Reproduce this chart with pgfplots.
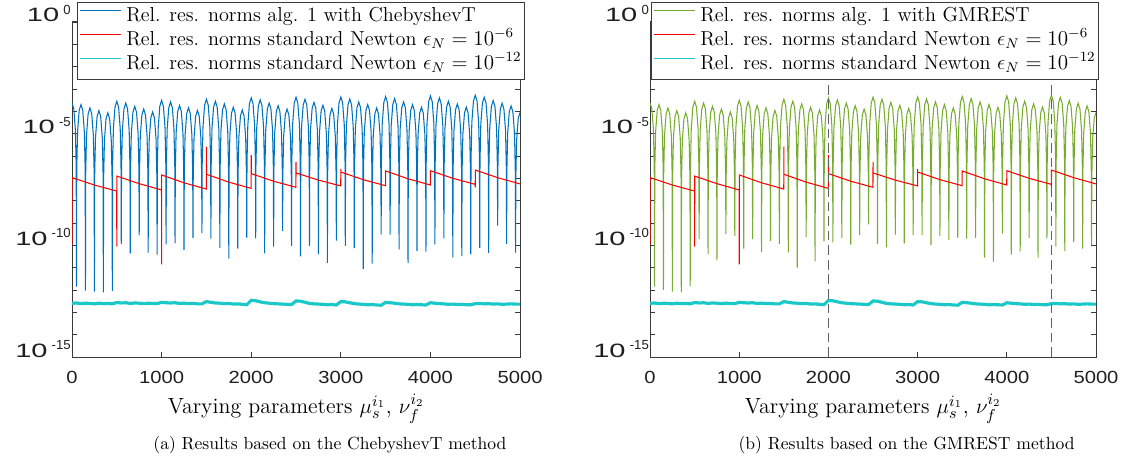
\documentclass[border=0pt]{standalone}
\usepackage{fontspec}
\usepackage{graphicx}
\usepackage{pgfplots}
\usepackage{pgfplotstable}
\pgfplotsset{compat=1.18}
\newfontfamily\ticksf{Liberation Sans}

\definecolor{mblue}{HTML}{0072BD}
\definecolor{mgreen}{HTML}{77AC30}
\definecolor{mred}{HTML}{FF0000}
\definecolor{mcyan}{HTML}{1AC8C8}
\definecolor{axgray}{HTML}{3A3A3A}

% exponent (log10) of the relative residual norms; b = ChebyshevT, g = GMREST
\pgfplotstableread[row sep=\\]{
x b g\\
0 -3.63 -3.63\\ 20 -3.89 -3.89\\ 38 -4.85 -4.85\\ 47 -6.53 -6.53\\ 50 -11.85 -11.85\\ 53 -6.60 -6.60\\ 62 -4.92 -4.92\\ 80 -3.96 -3.96\\
100 -3.70 -3.70\\ 120 -3.96 -3.96\\ 138 -4.92 -4.92\\ 147 -6.60 -6.60\\ 150 -12.03 -11.99\\ 153 -6.75 -6.75\\ 162 -5.07 -5.07\\ 180 -4.11 -4.11\\
200 -3.85 -3.85\\ 220 -4.11 -4.11\\ 238 -5.07 -5.07\\ 247 -6.75 -6.75\\ 250 -12.07 -12.07\\ 253 -6.87 -6.87\\ 262 -5.19 -5.19\\ 280 -4.23 -4.23\\
300 -3.97 -3.97\\ 320 -4.23 -4.23\\ 338 -5.19 -5.19\\ 347 -6.87 -6.87\\ 350 -12.11 -12.10\\ 353 -6.97 -6.97\\ 362 -5.29 -5.29\\ 380 -4.33 -4.33\\
400 -4.07 -4.07\\ 420 -4.33 -4.33\\ 438 -5.29 -5.29\\ 447 -6.97 -6.97\\ 450 -12.04 -11.84\\ 453 -6.45 -6.45\\ 462 -4.77 -4.77\\ 480 -3.81 -3.81\\
500 -3.55 -3.55\\ 520 -3.81 -3.81\\ 538 -4.77 -4.77\\ 547 -6.45 -6.45\\ 550 -9.93 -9.72\\ 553 -6.53 -6.53\\ 562 -4.85 -4.85\\ 580 -3.89 -3.89\\
600 -3.63 -3.63\\ 620 -3.89 -3.89\\ 638 -4.85 -4.85\\ 647 -6.53 -6.53\\ 650 -10.36 -10.39\\ 653 -6.68 -6.68\\ 662 -5.00 -5.00\\ 680 -4.04 -4.04\\
700 -3.78 -3.78\\ 720 -4.04 -4.04\\ 738 -5.00 -5.00\\ 747 -6.68 -6.68\\ 750 -9.54 -10.66\\ 753 -6.80 -6.80\\ 762 -5.12 -5.12\\ 780 -4.16 -4.16\\
800 -3.90 -3.90\\ 820 -4.16 -4.16\\ 838 -5.12 -5.12\\ 847 -6.80 -6.80\\ 850 -10.33 -9.49\\ 853 -6.93 -6.93\\ 862 -5.25 -5.25\\ 880 -4.29 -4.29\\
900 -4.03 -4.03\\ 920 -4.29 -4.29\\ 938 -5.25 -5.25\\ 947 -6.93 -6.93\\ 950 -10.42 -9.58\\ 953 -6.41 -6.41\\ 962 -4.73 -4.73\\ 980 -3.77 -3.77\\
1000 -3.51 -3.51\\ 1020 -3.77 -3.77\\ 1038 -4.73 -4.73\\ 1047 -6.41 -6.41\\ 1050 -9.96 -10.15\\ 1053 -6.48 -6.48\\ 1062 -4.80 -4.80\\ 1080 -3.84 -3.84\\
1100 -3.58 -3.58\\ 1120 -3.84 -3.84\\ 1138 -4.80 -4.80\\ 1147 -6.48 -6.48\\ 1150 -9.91 -9.72\\ 1153 -6.64 -6.64\\ 1162 -4.96 -4.96\\ 1180 -4.00 -4.00\\
1200 -3.74 -3.74\\ 1220 -4.00 -4.00\\ 1238 -4.96 -4.96\\ 1247 -6.64 -6.64\\ 1250 -10.20 -10.30\\ 1253 -6.74 -6.74\\ 1262 -5.06 -5.06\\ 1280 -4.10 -4.10\\
1300 -3.84 -3.84\\ 1320 -4.10 -4.10\\ 1338 -5.06 -5.06\\ 1347 -6.74 -6.74\\ 1350 -9.67 -9.81\\ 1353 -6.86 -6.86\\ 1362 -5.18 -5.18\\ 1380 -4.22 -4.22\\
1400 -3.96 -3.96\\ 1420 -4.22 -4.22\\ 1438 -5.18 -5.18\\ 1447 -6.86 -6.86\\ 1450 -9.45 -9.93\\ 1453 -6.36 -6.36\\ 1462 -4.68 -4.68\\ 1480 -3.72 -3.72\\
1500 -3.46 -3.46\\ 1520 -3.72 -3.72\\ 1538 -4.68 -4.68\\ 1547 -6.36 -6.36\\ 1550 -9.70 -10.31\\ 1553 -6.45 -6.45\\ 1562 -4.77 -4.77\\ 1580 -3.81 -3.81\\
1600 -3.55 -3.55\\ 1620 -3.81 -3.81\\ 1638 -4.77 -4.77\\ 1647 -6.45 -6.45\\ 1650 -10.11 -11.00\\ 1653 -6.57 -6.57\\ 1662 -4.89 -4.89\\ 1680 -3.93 -3.93\\
1700 -3.67 -3.67\\ 1720 -3.93 -3.93\\ 1738 -4.89 -4.89\\ 1747 -6.57 -6.57\\ 1750 -10.60 -9.63\\ 1753 -6.72 -6.72\\ 1762 -5.04 -5.04\\ 1780 -4.08 -4.08\\
1800 -3.82 -3.82\\ 1820 -4.08 -4.08\\ 1838 -5.04 -5.04\\ 1847 -6.72 -6.72\\ 1850 -10.15 -10.72\\ 1853 -6.84 -6.84\\ 1862 -5.16 -5.16\\ 1880 -4.20 -4.20\\
1900 -3.94 -3.94\\ 1920 -4.20 -4.20\\ 1938 -5.16 -5.16\\ 1947 -6.84 -6.84\\ 1950 -9.66 -9.82\\ 1953 -6.30 -6.30\\ 1962 -4.62 -4.62\\ 1980 -3.66 -3.66\\
2000 -3.40 -3.40\\ 2020 -3.66 -3.66\\ 2038 -4.62 -4.62\\ 2047 -6.30 -6.30\\ 2050 -9.69 -9.87\\ 2053 -6.39 -6.39\\ 2062 -4.71 -4.71\\ 2080 -3.75 -3.75\\
2100 -3.49 -3.49\\ 2120 -3.75 -3.75\\ 2138 -4.71 -4.71\\ 2147 -6.39 -6.39\\ 2150 -10.36 -9.67\\ 2153 -6.53 -6.53\\ 2162 -4.85 -4.85\\ 2180 -3.89 -3.89\\
2200 -3.63 -3.63\\ 2220 -3.89 -3.89\\ 2238 -4.85 -4.85\\ 2247 -6.53 -6.53\\ 2250 -10.06 -9.97\\ 2253 -6.65 -6.65\\ 2262 -4.97 -4.97\\ 2280 -4.01 -4.01\\
2300 -3.75 -3.75\\ 2320 -4.01 -4.01\\ 2338 -4.97 -4.97\\ 2347 -6.65 -6.65\\ 2350 -9.35 -9.54\\ 2353 -6.80 -6.80\\ 2362 -5.12 -5.12\\ 2380 -4.16 -4.16\\
2400 -3.90 -3.90\\ 2420 -4.16 -4.16\\ 2438 -5.12 -5.12\\ 2447 -6.80 -6.80\\ 2450 -10.02 -9.06\\ 2453 -6.27 -6.27\\ 2462 -4.59 -4.59\\ 2480 -3.63 -3.63\\
2500 -3.37 -3.37\\ 2520 -3.63 -3.63\\ 2538 -4.59 -4.59\\ 2547 -6.27 -6.27\\ 2550 -10.49 -9.93\\ 2553 -6.36 -6.36\\ 2562 -4.68 -4.68\\ 2580 -3.72 -3.72\\
2600 -3.46 -3.46\\ 2620 -3.72 -3.72\\ 2638 -4.68 -4.68\\ 2647 -6.36 -6.36\\ 2650 -10.02 -10.09\\ 2653 -6.50 -6.50\\ 2662 -4.82 -4.82\\ 2680 -3.86 -3.86\\
2700 -3.60 -3.60\\ 2720 -3.86 -3.86\\ 2738 -4.82 -4.82\\ 2747 -6.50 -6.50\\ 2750 -10.39 -9.52\\ 2753 -6.63 -6.63\\ 2762 -4.95 -4.95\\ 2780 -3.99 -3.99\\
2800 -3.73 -3.73\\ 2820 -3.99 -3.99\\ 2838 -4.95 -4.95\\ 2847 -6.63 -6.63\\ 2850 -10.78 -9.91\\ 2853 -6.77 -6.77\\ 2862 -5.09 -5.09\\ 2880 -4.13 -4.13\\
2900 -3.87 -3.87\\ 2920 -4.13 -4.13\\ 2938 -5.09 -5.09\\ 2947 -6.77 -6.77\\ 2950 -9.79 -9.54\\ 2953 -6.26 -6.26\\ 2962 -4.58 -4.58\\ 2980 -3.62 -3.62\\
3000 -3.36 -3.36\\ 3020 -3.62 -3.62\\ 3038 -4.58 -4.58\\ 3047 -6.26 -6.26\\ 3050 -10.02 -9.54\\ 3053 -6.35 -6.35\\ 3062 -4.67 -4.67\\ 3080 -3.71 -3.71\\
3100 -3.45 -3.45\\ 3120 -3.71 -3.71\\ 3138 -4.67 -4.67\\ 3147 -6.35 -6.35\\ 3150 -10.13 -9.99\\ 3153 -6.48 -6.48\\ 3162 -4.80 -4.80\\ 3180 -3.84 -3.84\\
3200 -3.58 -3.58\\ 3220 -3.84 -3.84\\ 3238 -4.80 -4.80\\ 3247 -6.48 -6.48\\ 3250 -11.05 -9.58\\ 3253 -6.60 -6.60\\ 3262 -4.92 -4.92\\ 3280 -3.96 -3.96\\
3300 -3.70 -3.70\\ 3320 -3.96 -3.96\\ 3338 -4.92 -4.92\\ 3347 -6.60 -6.60\\ 3350 -10.82 -9.76\\ 3353 -6.75 -6.75\\ 3362 -5.07 -5.07\\ 3380 -4.11 -4.11\\
3400 -3.85 -3.85\\ 3420 -4.11 -4.11\\ 3438 -5.07 -5.07\\ 3447 -6.75 -6.75\\ 3450 -9.51 -9.66\\ 3453 -6.24 -6.24\\ 3462 -4.56 -4.56\\ 3480 -3.60 -3.60\\
3500 -3.34 -3.34\\ 3520 -3.60 -3.60\\ 3538 -4.56 -4.56\\ 3547 -6.24 -6.24\\ 3550 -9.52 -9.70\\ 3553 -6.33 -6.33\\ 3562 -4.65 -4.65\\ 3580 -3.69 -3.69\\
3600 -3.43 -3.43\\ 3620 -3.69 -3.69\\ 3638 -4.65 -4.65\\ 3647 -6.33 -6.33\\ 3650 -10.18 -9.67\\ 3653 -6.48 -6.48\\ 3662 -4.80 -4.80\\ 3680 -3.84 -3.84\\
3700 -3.58 -3.58\\ 3720 -3.84 -3.84\\ 3738 -4.80 -4.80\\ 3747 -6.48 -6.48\\ 3750 -10.78 -10.55\\ 3753 -6.60 -6.60\\ 3762 -4.92 -4.92\\ 3780 -3.96 -3.96\\
3800 -3.70 -3.70\\ 3820 -3.96 -3.96\\ 3838 -4.92 -4.92\\ 3847 -6.60 -6.60\\ 3850 -10.25 -10.73\\ 3853 -6.72 -6.72\\ 3862 -5.04 -5.04\\ 3880 -4.08 -4.08\\
3900 -3.82 -3.82\\ 3920 -4.08 -4.08\\ 3938 -5.04 -5.04\\ 3947 -6.72 -6.72\\ 3950 -10.28 -9.48\\ 3953 -6.21 -6.21\\ 3962 -4.53 -4.53\\ 3980 -3.57 -3.57\\
4000 -3.31 -3.31\\ 4020 -3.57 -3.57\\ 4038 -4.53 -4.53\\ 4047 -6.21 -6.21\\ 4050 -9.96 -10.42\\ 4053 -6.30 -6.30\\ 4062 -4.62 -4.62\\ 4080 -3.66 -3.66\\
4100 -3.40 -3.40\\ 4120 -3.66 -3.66\\ 4138 -4.62 -4.62\\ 4147 -6.30 -6.30\\ 4150 -9.69 -10.27\\ 4153 -6.45 -6.45\\ 4162 -4.77 -4.77\\ 4180 -3.81 -3.81\\
4200 -3.55 -3.55\\ 4220 -3.81 -3.81\\ 4238 -4.77 -4.77\\ 4247 -6.45 -6.45\\ 4250 -10.55 -9.67\\ 4253 -6.57 -6.57\\ 4262 -4.89 -4.89\\ 4280 -3.93 -3.93\\
4300 -3.67 -3.67\\ 4320 -3.93 -3.93\\ 4338 -4.89 -4.89\\ 4347 -6.57 -6.57\\ 4350 -10.48 -10.55\\ 4353 -6.71 -6.71\\ 4362 -5.03 -5.03\\ 4380 -4.07 -4.07\\
4400 -3.81 -3.81\\ 4420 -4.07 -4.07\\ 4438 -5.03 -5.03\\ 4447 -6.71 -6.71\\ 4450 -10.39 -9.69\\ 4453 -6.18 -6.18\\ 4462 -4.50 -4.50\\ 4480 -3.54 -3.54\\
4500 -3.28 -3.28\\ 4520 -3.54 -3.54\\ 4538 -4.50 -4.50\\ 4547 -6.18 -6.18\\ 4550 -10.11 -10.06\\ 4553 -6.27 -6.27\\ 4562 -4.59 -4.59\\ 4580 -3.63 -3.63\\
4600 -3.37 -3.37\\ 4620 -3.63 -3.63\\ 4638 -4.59 -4.59\\ 4647 -6.27 -6.27\\ 4650 -10.34 -10.25\\ 4653 -6.42 -6.42\\ 4662 -4.74 -4.74\\ 4680 -3.78 -3.78\\
4700 -3.52 -3.52\\ 4720 -3.78 -3.78\\ 4738 -4.74 -4.74\\ 4747 -6.42 -6.42\\ 4750 -9.12 -9.84\\ 4753 -6.54 -6.54\\ 4762 -4.86 -4.86\\ 4780 -3.90 -3.90\\
4800 -3.64 -3.64\\ 4820 -3.90 -3.90\\ 4838 -4.86 -4.86\\ 4847 -6.54 -6.54\\ 4850 -9.94 -10.15\\ 4853 -6.66 -6.66\\ 4862 -4.98 -4.98\\ 4880 -4.02 -4.02\\
4900 -3.76 -3.76\\ 4920 -4.02 -4.02\\ 4938 -4.98 -4.98\\ 4947 -6.66 -6.66\\ 4950 -10.33 -9.99\\ 4953 -6.95 -6.95\\ 4962 -5.27 -5.27\\ 4980 -4.31 -4.31\\
5000 -4.05 -4.05\\
}\tabS

% standard Newton, eps_N = 1e-12
\pgfplotstableread[row sep=\\]{
x c\\
0 -12.60\\ 50 -12.58\\ 100 -12.61\\ 150 -12.59\\ 200 -12.60\\ 250 -12.62\\ 300 -12.59\\ 350 -12.61\\ 400 -12.60\\ 450 -12.62\\
500 -12.56\\ 550 -12.58\\ 600 -12.57\\ 650 -12.60\\ 700 -12.58\\ 750 -12.59\\ 800 -12.61\\ 850 -12.59\\ 900 -12.60\\ 950 -12.61\\
1000 -12.55\\ 1050 -12.57\\ 1100 -12.58\\ 1150 -12.57\\ 1200 -12.60\\ 1250 -12.59\\ 1300 -12.61\\ 1350 -12.60\\ 1400 -12.62\\ 1450 -12.62\\
1500 -12.52\\ 1550 -12.55\\ 1600 -12.58\\ 1650 -12.59\\ 1700 -12.61\\ 1750 -12.60\\ 1800 -12.63\\ 1850 -12.62\\ 1900 -12.64\\ 1950 -12.66\\
2000 -12.46\\ 2050 -12.48\\ 2100 -12.53\\ 2150 -12.57\\ 2200 -12.59\\ 2250 -12.61\\ 2300 -12.62\\ 2350 -12.63\\ 2400 -12.64\\ 2450 -12.65\\
2500 -12.49\\ 2550 -12.50\\ 2600 -12.55\\ 2650 -12.60\\ 2700 -12.62\\ 2750 -12.63\\ 2800 -12.64\\ 2850 -12.66\\ 2900 -12.65\\ 2950 -12.67\\
3000 -12.52\\ 3050 -12.53\\ 3100 -12.57\\ 3150 -12.61\\ 3200 -12.63\\ 3250 -12.64\\ 3300 -12.66\\ 3350 -12.65\\ 3400 -12.67\\ 3450 -12.68\\
3500 -12.55\\ 3550 -12.57\\ 3600 -12.59\\ 3650 -12.62\\ 3700 -12.63\\ 3750 -12.64\\ 3800 -12.66\\ 3850 -12.65\\ 3900 -12.66\\ 3950 -12.67\\
4000 -12.57\\ 4050 -12.59\\ 4100 -12.61\\ 4150 -12.62\\ 4200 -12.64\\ 4250 -12.63\\ 4300 -12.65\\ 4350 -12.64\\ 4400 -12.66\\ 4450 -12.66\\
4500 -12.61\\ 4550 -12.60\\ 4600 -12.62\\ 4650 -12.61\\ 4700 -12.63\\ 4750 -12.62\\ 4800 -12.64\\ 4850 -12.63\\ 4900 -12.62\\ 4950 -12.63\\
5000 -12.63\\
}\tabC

\newcommand\xl[1]{\scalebox{1.15}[1]{#1}}
\newcommand\ylab[1]{{\fontsize{11}{12}\selectfont\scalebox{1.5}[1]{10}}\hspace{2.4pt}\raisebox{4.2pt}{\fontsize{7.5}{8}\selectfont #1}}
\newcommand\newton[1]{Rel. res. norms standard Newton $\epsilon_N = 10^{#1}$}

\pgfplotsset{
  panel/.style={
    scale only axis, height=190.7pt,
    xmin=0, xmax=5000, ymin=-15, ymax=0,
    xtick={0,1000,2000,3000,4000,5000},
    xticklabels={\xl{0},\xl{1000},\xl{2000},\xl{3000},\xl{4000},\xl{5000}},
    ytick={-15,-10,-5,0},
    yticklabels={\ylab{-15},\ylab{-10},\ylab{-5},\ylab{0}},
    minor y tick num=4,
    tick align=inside,
    major tick length=2.6pt, minor tick length=2.6pt,
    axis line style={axgray, line width=0.55pt},
    tick style={axgray, line width=0.5pt},
    tick label style={font=\ticksf\fontsize{10}{11}\selectfont, text=black!88},
    xticklabel style={anchor=base, yshift=-15.1pt},
    yticklabel style={anchor=base east, inner sep=0pt, xshift=-0.5pt},
    xlabel={Varying parameters $\mu_s^{i_1}$, $\nu_f^{i_2}$},
    xlabel style={font=\fontsize{12.5}{14}\selectfont, at={(axis description cs:0.5,0)}, anchor=base, yshift=-32.3pt, inner sep=0pt},
    legend cell align=left,
    legend style={anchor=north east, draw=axgray, line width=0.5pt, fill=white,
      font=\fontsize{11.5}{13}\selectfont, inner xsep=1.7pt, inner ysep=2.5pt, row sep=2pt,
      nodes={inner sep=0pt, text height=8.6pt, text depth=3.1pt}},
    legend image code/.code={\draw[#1, line width=0.6pt] (0pt,3.4pt) -- (22.8pt,3.4pt); \path (25.2pt,0pt);},
  }
}

\begin{document}
\begin{tikzpicture}
\path[use as bounding box] (-40.98pt,-59.2pt) rectangle (599.3pt,203.2pt);

\begin{axis}[panel, name=L, at={(0pt,0pt)}, anchor=south west, width=255pt,
  legend style={at={(1.011,1.061)}}]
\addplot[mblue, line width=0.6pt] table[x=x, y=b] {\tabS};
\addlegendentry{Rel. res. norms alg. 1 with ChebyshevT}
\addplot[mred, line width=0.6pt] coordinates {(0,-9.94)(1,-6.97)(250,-7.30)(499,-7.57)(500,-10.06)(501,-6.90)(750,-7.24)(999,-7.52)(1000,-10.85)(1001,-6.85)(1250,-7.20)(1499,-7.48)(1500,-5.58)(1501,-6.82)(1750,-7.17)(1999,-7.45)(2000,-5.96)(2001,-6.79)(2250,-7.13)(2499,-7.40)(2500,-6.28)(2501,-6.76)(2750,-7.08)(2999,-7.34)(3000,-6.58)(3001,-6.72)(3250,-7.06)(3499,-7.33)(3500,-6.67)(3750,-7.02)(3999,-7.30)(4000,-6.66)(4250,-7.00)(4499,-7.27)(4500,-7.40)(4501,-6.63)(4750,-6.97)(5000,-7.25)};
\addlegendentry{\newton{-6}}
\addplot[mcyan, line width=1.8pt] table[x=x, y=c] {\tabC};
\addlegendentry{\newton{-12}}
\end{axis}

\begin{axis}[panel, name=R, at={(329pt,0pt)}, anchor=south west, width=253.8pt,
  legend style={at={(1.0067,1.061)}}]
\addplot[mgreen, line width=0.6pt] table[x=x, y=g] {\tabS};
\addlegendentry{Rel. res. norms alg. 1 with GMREST}
\addplot[mred, line width=0.6pt] coordinates {(0,-9.94)(1,-6.97)(250,-7.30)(499,-7.57)(500,-10.06)(501,-6.90)(750,-7.24)(999,-7.52)(1000,-10.85)(1001,-6.85)(1250,-7.20)(1499,-7.48)(1500,-5.58)(1501,-6.82)(1750,-7.17)(1999,-7.45)(2000,-5.96)(2001,-6.79)(2250,-7.13)(2499,-7.40)(2500,-6.28)(2501,-6.76)(2750,-7.08)(2999,-7.34)(3000,-6.58)(3001,-6.72)(3250,-7.06)(3499,-7.33)(3500,-6.67)(3750,-7.02)(3999,-7.30)(4000,-6.66)(4250,-7.00)(4499,-7.27)(4500,-7.40)(4501,-6.63)(4750,-6.97)(5000,-7.25)};
\addlegendentry{\newton{-6}}
\addplot[mcyan, line width=1.8pt] table[x=x, y=c] {\tabC};
\addlegendentry{\newton{-12}}
\addplot[forget plot, black!62, line width=0.8pt, dash pattern=on 5.5pt off 2.8pt] coordinates {(2000,-15)(2000,0)};
\addplot[forget plot, black!62, line width=0.8pt, dash pattern=on 5.5pt off 2.8pt] coordinates {(4500,-15)(4500,0)};
\end{axis}

\node[anchor=base, font=\fontsize{10}{12}\selectfont] at (146.8pt,-52.8pt) {(a) Results based on the ChebyshevT method};
\node[anchor=base, font=\fontsize{10}{12}\selectfont] at (475pt,-52.8pt) {(b) Results based on the GMREST method};
\end{tikzpicture}
\end{document}
